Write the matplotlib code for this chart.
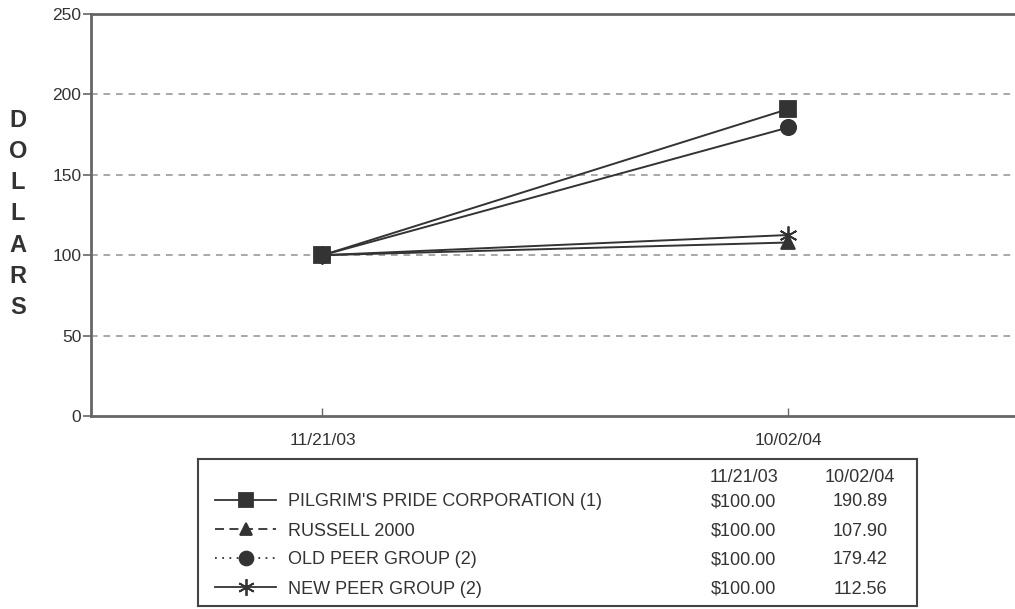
import numpy as np
import matplotlib
matplotlib.use("Agg")
import matplotlib.pyplot as plt

# data
dates = ["11/21/03", "10/02/04"]
names = ["PILGRIM'S PRIDE CORPORATION (1)", "RUSSELL 2000",
         "OLD PEER GROUP (2)", "NEW PEER GROUP (2)"]
start_vals = [100.00, 100.00, 100.00, 100.00]
end_vals = [190.89, 107.90, 179.42, 112.56]
markers = ["s", "^", "o", (6, 2, 0)]
msizes = [11, 10, 11, 13]
legend_styles = ["-", (0, (5, 3)), (0, (1, 3)), "-"]

plt.rcParams['font.family'] = ['Liberation Sans', 'DejaVu Sans']
dark = "#333333"
spine_col = "#666666"
fs = 12.5
lfs = 13

fig = plt.figure(figsize=(10.15, 6.09), dpi=100)
ax = fig.add_axes([91 / 1015, 1 - 416 / 609, 1 - 91 / 1015, (416 - 14) / 609])

x = np.arange(len(dates))
for i in range(len(names)):
    ax.plot(x, [start_vals[i], end_vals[i]], color=dark, lw=1.4,
            marker=markers[i], ms=msizes[i], mfc=dark, mec=dark, mew=1.3,
            zorder=3)

ax.set_xlim(-0.497, 1.487)
ax.set_ylim(0, 250)
ax.set_yticks(np.arange(0, 251, 50))
ax.set_xticks(x)
ax.set_xticklabels(dates)
for yv in [50, 100, 150, 200]:
    ax.axhline(yv, color="#999999", lw=1.2, ls=(0, (4, 3.5)), zorder=1)

ax.tick_params(axis="y", direction="out", length=6, width=1.2, color=spine_col,
               labelsize=fs, labelcolor=dark, pad=1)
ax.tick_params(axis="x", direction="in", length=6, width=1.0, color=spine_col,
               labelsize=fs, labelcolor=dark, pad=12)
ax.spines["right"].set_visible(False)
for s in ["left", "bottom", "top"]:
    ax.spines[s].set_color(spine_col)
    ax.spines[s].set_linewidth(2)

fig.text(18 / 1015, 1 - 214 / 609, "D\nO\nL\nL\nA\nR\nS", ha="center",
         va="center", fontsize=17, fontweight="bold", color=dark,
         linespacing=1.45)

# table legend box
lax = fig.add_axes([198 / 1015, 1 - 606 / 609, (917 - 198) / 1015, (606 - 459) / 609])
lax.set_xlim(198, 917)
lax.set_ylim(606, 459)
lax.set_xticks([])
lax.set_yticks([])
for s in lax.spines.values():
    s.set_color("#444444")
    s.set_linewidth(1.5)

va = "center_baseline"
lax.text(744, 475, dates[0], ha="center", va=va, fontsize=lfs, color=dark)
lax.text(860, 475, dates[1], ha="center", va=va, fontsize=lfs, color=dark)
row_y = [500, 529, 558, 587]
for i in range(len(names)):
    y = row_y[i]
    lax.plot([215, 276], [y, y], color=dark, lw=1.3, ls=legend_styles[i])
    lax.plot([246], [y], marker=markers[i], ms=msizes[i] - 1, color=dark,
             mfc=dark, mec=dark, mew=1.3)
    lax.text(288, y, names[i], ha="left", va=va, fontsize=lfs, color=dark)
    lax.text(744, y, "${:.2f}".format(start_vals[i]), ha="center", va=va,
             fontsize=lfs, color=dark)
    lax.text(860, y, "{:.2f}".format(end_vals[i]), ha="center", va=va,
             fontsize=lfs, color=dark)

fig.savefig("out.png", dpi=100)
